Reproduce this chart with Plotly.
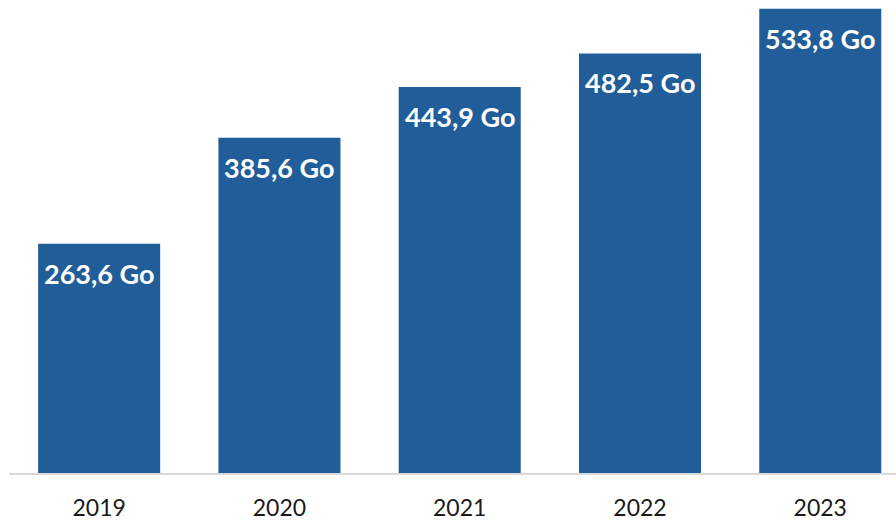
import plotly.graph_objects as go

years = ["2019", "2020", "2021", "2022", "2023"]
values = [263.6, 385.6, 443.9, 482.5, 533.8]
labels = ["263,6 Go", "385,6 Go", "443,9 Go", "482,5 Go", "533,8 Go"]

bar_color = "#215e99"

fig = go.Figure(
    go.Bar(
        x=years,
        y=values,
        marker=dict(color=bar_color, line=dict(width=0)),
        width=0.677,
        hoverinfo="skip",
    )
)

# Value labels placed just inside the top of each bar
# (category axes position annotations by category index)
for i, (v, lab) in enumerate(zip(values, labels)):
    fig.add_annotation(
        x=i, y=v, text=lab, showarrow=False,
        xanchor="center", yanchor="top", yshift=-11,
        font=dict(family="Lato", size=27, color="white", weight="bold"),
    )

fig.update_layout(
    width=896, height=521,
    margin=dict(l=9, r=0, t=0, b=45),
    paper_bgcolor="white", plot_bgcolor="white",
    showlegend=False,
    xaxis=dict(
        type="category",
        range=[-0.5, 4.42],
        showgrid=False,
        showline=True, linecolor="#d9d9d9", linewidth=2,
        ticks="", ticklabelstandoff=13,
        tickfont=dict(family="Lato", size=23, color="#1a1a1a"),
    ),
    yaxis=dict(
        range=[0, 544],
        visible=False,
    ),
)

fig.write_html("out.html")
